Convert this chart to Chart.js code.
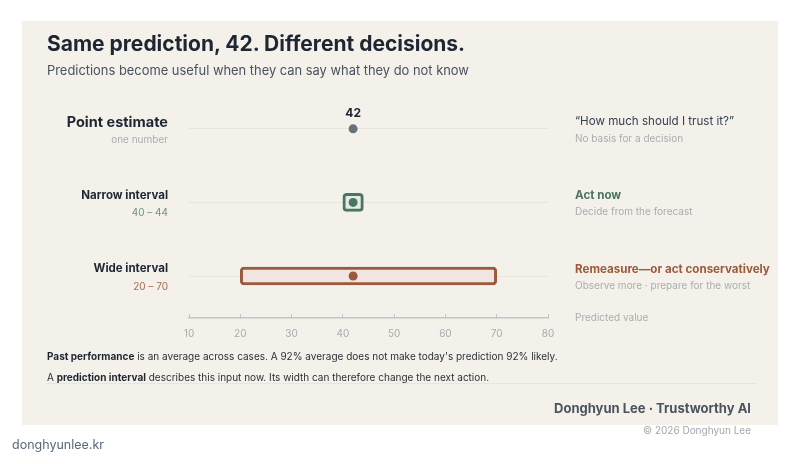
<!DOCTYPE html>
<html>
<head>
<meta charset="utf-8">
<script src="https://cdn.jsdelivr.net/npm/chart.js@4.4.1/dist/chart.umd.min.js"></script>
<style>
    html, body {
        margin: 0;
        padding: 0;
        background: #ffffff;
        font-family: Inter, "Noto Sans", sans-serif;
    }
    #page {
        position: relative;
        width: 800px;
        height: 464px;
        overflow: hidden;
    }
    #card {
        position: absolute;
        left: 22px;
        top: 21px;
        width: 756px;
        height: 404px;
        background: #f3f1e9;
    }
    #chartWrap {
        position: absolute;
        left: 0;
        top: 0;
        width: 800px;
        height: 464px;
    }
    .txt {
        position: absolute;
        white-space: nowrap;
    }
    #title {
        left: 47px;
        top: 31px;
        font-size: 21px;
        font-weight: 700;
        color: #1e2533;
    }
    #subtitle {
        left: 47px;
        top: 63px;
        font-size: 12.9px;
        color: #4b5260;
    }
    .note {
        left: 47px;
        font-size: 10px;
        color: #2b303a;
    }
    .note b {
        font-weight: 700;
        color: #1e2533;
    }
    #rule {
        position: absolute;
        left: 47px;
        top: 383px;
        width: 710px;
        height: 1px;
        background: #e7e5de;
    }
    #byline {
        right: 49px;
        top: 400px;
        font-size: 13px;
        font-weight: 700;
        color: #4b5260;
    }
    #copy {
        right: 49px;
        top: 424px;
        font-size: 10px;
        color: #a3a7ad;
    }
    #site {
        left: 12px;
        top: 437px;
        font-size: 12.5px;
        color: #5a6878;
    }
</style>
</head>
<body>
<div id="page">
    <div id="card"></div>
    <div id="chartWrap"><canvas id="intervalChart"></canvas></div>
    <div class="txt" id="title">Same prediction, 42. Different decisions.</div>
    <div class="txt" id="subtitle">Predictions become useful when they can say what they do not know</div>
    <div class="txt note" style="top:350px"><b>Past performance</b> is an average across cases. A 92% average does not make today's prediction 92% likely.</div>
    <div class="txt note" style="top:371px">A <b>prediction interval</b> describes this input now. Its width can therefore change the next action.</div>
    <div id="rule"></div>
    <div class="txt" id="byline">Donghyun Lee · Trustworthy AI</div>
    <div class="txt" id="copy">© 2026 Donghyun Lee</div>
    <div class="txt" id="site">donghyunlee.kr</div>
</div>
<script>
// Data
const rowNames = ['Point estimate', 'Narrow interval', 'Wide interval'];
const rowRanges = ['one number', '40 – 44', '20 – 70'];
const rowActions = ['\u201cHow much should I trust it?\u201d', 'Act now', 'Remeasure\u2014or act conservatively'];
const rowNotes = ['No basis for a decision', 'Decide from the forecast', 'Observe more · prepare for the worst'];
const prediction = [42, 42, 42];
const intervalLow = [null, 40, 20];
const intervalHigh = [null, 44, 70];
const xTicks = [10, 20, 30, 40, 50, 60, 70, 80];
const xLabel = 'Predicted value';

// Colours per row
const inkColor = ['#6b7080', '#4a7563', '#9c5a3c'];
const fillColor = ['rgba(0,0,0,0)', '#e6ebe6', '#f0e5e1'];
const rangeColor = ['#a9adb3', '#6f9482', '#a86a50'];
const actionColor = ['#374151', '#4a7563', '#9c5a3c'];

const rowIdx = rowNames.map((_, i) => i);

const intervalData = rowIdx
    .filter(i => intervalLow[i] !== null)
    .map(i => ({ x: [intervalLow[i], intervalHigh[i]], y: i }));
const pointData = rowIdx.map(i => ({ x: prediction[i], y: i }));

// Row labels on both sides, placed on the y scale
const rowLabelPlugin = {
    id: 'rowLabels',
    afterDraw(chart) {
        const ctx = chart.ctx;
        const yScale = chart.scales.y;
        const xScale = chart.scales.x;
        const leftX = xScale.left - 21;
        const rightX = xScale.right + 27;
        ctx.save();
        ctx.textBaseline = 'middle';
        rowIdx.forEach(i => {
            const y = yScale.getPixelForValue(i);
            // left side
            ctx.textAlign = 'right';
            ctx.fillStyle = '#1e2533';
            ctx.font = i === 0 ? '700 14.5px Inter' : '700 11.5px Inter';
            ctx.fillText(rowNames[i], leftX, y - (i === 0 ? 6 : 7));
            ctx.fillStyle = rangeColor[i];
            ctx.font = '400 10px Inter';
            ctx.fillText(rowRanges[i], leftX, y + 11);
            // right side
            ctx.textAlign = 'left';
            ctx.fillStyle = actionColor[i];
            ctx.font = i === 0 ? '400 11.6px Inter' : '700 11.6px Inter';
            ctx.fillText(rowActions[i], rightX, y - 7);
            ctx.fillStyle = '#a9adb3';
            ctx.font = '400 10px Inter';
            ctx.fillText(rowNotes[i], rightX, y + 10);
        });
        // axis caption
        ctx.fillStyle = '#a9adb3';
        ctx.font = '400 10px Inter';
        ctx.fillText(xLabel, rightX, xScale.top);
        // value above the point estimate
        const meta = chart.getDatasetMeta(1);
        const pt = meta.data[0];
        ctx.textAlign = 'center';
        ctx.fillStyle = '#1e2533';
        ctx.font = '700 12px Inter';
        ctx.fillText(String(prediction[0]), pt.x, pt.y - 15);
        ctx.restore();
    }
};

const ctx = document.getElementById('intervalChart').getContext('2d');
new Chart(ctx, {
    type: 'scatter',
    data: {
        datasets: [{
            type: 'bar',
            indexAxis: 'y',
            data: intervalData,
            backgroundColor: fillColor.slice(1),
            borderColor: inkColor.slice(1),
            borderWidth: 3,
            borderRadius: 4,
            borderSkipped: false,
            barThickness: 18,
            order: 1
        }, {
            type: 'scatter',
            data: pointData,
            backgroundColor: inkColor,
            borderWidth: 0,
            pointRadius: 4.5,
            order: 0
        }]
    },
    plugins: [rowLabelPlugin],
    options: {
        responsive: true,
        maintainAspectRatio: false,
        animation: false,
        layout: {
            padding: { left: 189, right: 252, top: 92, bottom: 110 }
        },
        plugins: {
            legend: { display: false },
            tooltip: { enabled: false }
        },
        scales: {
            x: {
                type: 'linear',
                min: xTicks[0],
                max: xTicks[xTicks.length - 1],
                afterBuildTicks: scale => {
                    scale.ticks = xTicks.map(v => ({ value: v }));
                },
                grid: {
                    drawOnChartArea: false,
                    drawTicks: true,
                    tickLength: -4,
                    color: '#c3c5ca',
                    lineWidth: 1
                },
                border: {
                    display: true,
                    color: '#c3c5ca',
                    width: 1.5
                },
                ticks: {
                    padding: 14,
                    color: '#a7abb0',
                    font: { family: 'Inter', size: 10 }
                }
            },
            y: {
                type: 'linear',
                reverse: true,
                offset: false,
                min: -0.5,
                max: 2.57,
                afterBuildTicks: scale => {
                    scale.ticks = rowIdx.map(v => ({ value: v }));
                },
                grid: {
                    offset: false,
                    color: '#e7e5de',
                    drawTicks: false
                },
                border: { display: false },
                ticks: { display: false }
            }
        }
    }
});
</script>
</body>
</html>
